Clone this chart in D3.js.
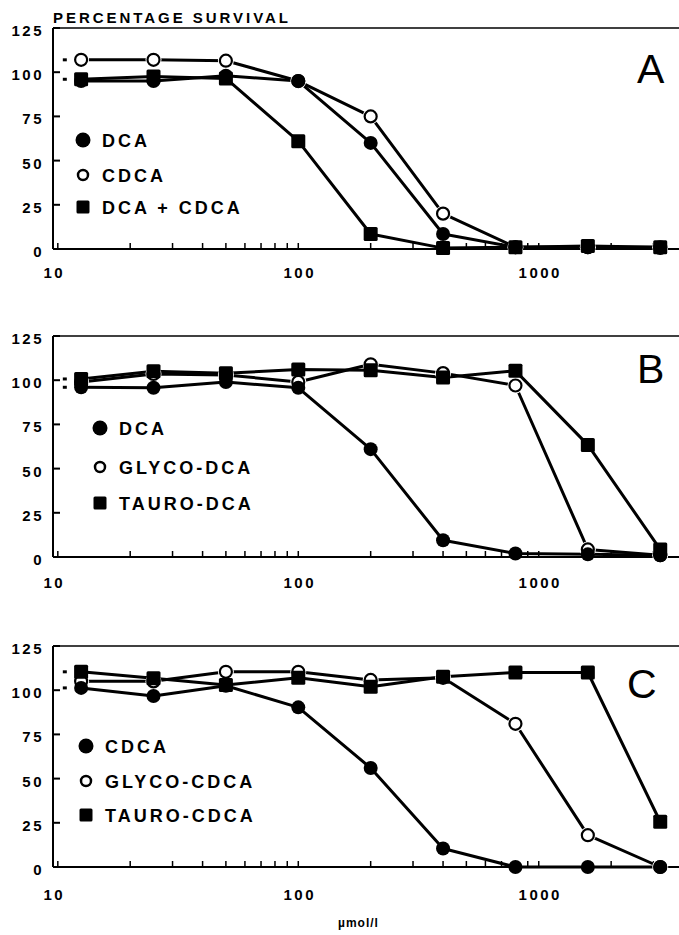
<!DOCTYPE html>
<html>
<head>
<meta charset="utf-8">
<script src="https://cdn.jsdelivr.net/npm/d3@7"></script>
<style>
  body { margin: 0; background: #fff; }
  svg { display: block; font-family: "Liberation Sans", Arial, sans-serif; }
  .tick-label { font-size: 15px; font-weight: bold; letter-spacing: 2.5px; }
  .legend-text { font-size: 18px; font-weight: bold; letter-spacing: 3px; }
  .panel-letter { font-size: 41px; }
</style>
</head>
<body>
<svg id="chart" width="679" height="935"></svg>
<script>
// concentrations (umol/l)
const conc = [12.5, 25, 50, 100, 200, 400, 800, 1600, 3200];
const yTicks = [0, 25, 50, 75, 100, 125];
const xLabels = [10, 100, 1000];
const xMinor = [20, 30, 40, 50, 60, 70, 80, 90, 200, 300, 400, 500, 600, 700, 800, 900, 2000, 3000];

// panel A
const aNames = ["DCA", "CDCA", "DCA + CDCA"];
const aDCA = [95, 95, 98, 95, 60, 8.5, 1, 1, 0.5];
const aCDCA = [107, 107, 106.5, 95, 75, 20, 1, 1, 1];
const aMix = [96, 97.5, 96.5, 61, 8.5, 0.5, 1, 1.7, 1];

// panel B
const bNames = ["DCA", "GLYCO-DCA", "TAURO-DCA"];
const bDCA = [96, 95.7, 99, 95.7, 61, 9.5, 2, 1.5, 1];
const bGly = [99, 103.5, 103, 99, 109, 104, 97, 4.3, 1];
const bTau = [100.7, 105, 104, 106, 105.6, 101.5, 105.3, 63.4, 4.3];

// panel C
const cNames = ["CDCA", "GLYCO-CDCA", "TAURO-CDCA"];
const cCDCA = [101.3, 96.7, 102.5, 90.3, 56, 10.5, 0, 0, 0];
const cGly = [105, 105, 110.4, 110.4, 105.8, 107, 81, 18, 0];
const cTau = [110.4, 106.7, 103, 107, 102, 107.6, 110, 110, 25.6];

const panels = [
  { letter: "A", top: 28, names: aNames, filled: aDCA, open: aCDCA, square: aMix,
    legX: 83, legY: [140, 175, 207], letterX: 637, letterY: 83, labelY: 278, stubs: [aCDCA, aMix] },
  { letter: "B", top: 336, names: bNames, filled: bDCA, open: bGly, square: bTau,
    legX: 100, legY: [428, 467, 503], letterX: 637, letterY: 383, labelY: 588, stubs: [bTau, bDCA] },
  { letter: "C", top: 646, names: cNames, filled: cCDCA, open: cGly, square: cTau,
    legX: 86, legY: [746, 781, 815], letterX: 627, letterY: 698, labelY: 900, stubs: [cTau, cCDCA] }
];

const svg = d3.select("#chart");
const left = 53, right = 679, plotH = 221;

const x = d3.scaleLog().domain([9.55, 3830]).range([left, right]);

svg.append("text")
  .attr("x", 53).attr("y", 23)
  .attr("font-size", 15).attr("font-weight", "bold")
  .attr("textLength", 235).attr("lengthAdjust", "spacing")
  .text("PERCENTAGE SURVIVAL");

function drawPanel(p) {
  const y = d3.scaleLinear().domain([0, 125]).range([p.top + plotH, p.top]);
  const g = svg.append("g");

  // frame: left axis, top line, bottom axis
  g.append("line").attr("x1", left).attr("x2", left).attr("y1", y(125)).attr("y2", y(0))
    .attr("stroke", "#000").attr("stroke-width", 2);
  g.append("line").attr("x1", left).attr("x2", right).attr("y1", y(125)).attr("y2", y(125))
    .attr("stroke", "#000").attr("stroke-width", 1.5);
  g.append("line").attr("x1", left).attr("x2", right).attr("y1", y(0)).attr("y2", y(0))
    .attr("stroke", "#000").attr("stroke-width", 2);

  // y ticks (inward)
  g.selectAll(".ytick").data(yTicks).enter().append("line")
    .attr("x1", left).attr("x2", left + 7)
    .attr("y1", d => y(d)).attr("y2", d => y(d))
    .attr("stroke", "#000").attr("stroke-width", 2);
  g.selectAll(".ylab").data(yTicks).enter().append("text")
    .attr("class", "tick-label")
    .attr("x", 44).attr("y", d => y(d) + 4)
    .attr("dominant-baseline", "middle")
    .attr("text-anchor", "end")
    .text(d => d);

  // x ticks (inward)
  g.selectAll(".xminor").data(xLabels.concat(xMinor)).enter().append("line")
    .attr("x1", d => x(d)).attr("x2", d => x(d))
    .attr("y1", y(0)).attr("y2", y(0) - 6)
    .attr("stroke", "#000").attr("stroke-width", 1.5);
  g.selectAll(".xlab").data(xLabels).enter().append("text")
    .attr("class", "tick-label")
    .attr("x", (d, i) => (i === 0 ? x(d) - 5 : x(d)) + 1.5)
    .attr("y", p.labelY)
    .attr("text-anchor", "middle")
    .text(d => d);

  // little stubs left of the first points
  g.selectAll(".stub").data(p.stubs).enter().append("line")
    .attr("x1", x(10) + 5).attr("x2", x(10) + 9)
    .attr("y1", d => y(d[0])).attr("y2", d => y(d[0]))
    .attr("stroke", "#000").attr("stroke-width", 3);

  const line = d3.line().x((d, i) => x(conc[i])).y(d => y(d));

  const series = [
    { vals: p.open, type: "open" },
    { vals: p.filled, type: "filled" },
    { vals: p.square, type: "square" }
  ];

  series.forEach(s => {
    g.append("path").datum(s.vals)
      .attr("d", line)
      .attr("fill", "none").attr("stroke", "#000")
      .attr("stroke-width", 3).attr("stroke-linejoin", "round");
  });

  series.forEach(s => {
    const m = g.append("g").selectAll("g").data(s.vals).enter().append("g")
      .attr("transform", (d, i) => `translate(${x(conc[i])},${y(d)})`);
    if (s.type === "open") {
      m.append("circle").attr("r", 8).attr("fill", "#fff");
      m.append("circle").attr("r", 6).attr("fill", "#fff")
        .attr("stroke", "#000").attr("stroke-width", 2.2);
    } else if (s.type === "filled") {
      m.append("circle").attr("r", 7).attr("fill", "#000");
    } else {
      m.append("rect").attr("x", -7).attr("y", -7).attr("width", 14).attr("height", 14)
        .attr("rx", 1.5).attr("fill", "#000");
    }
  });

  // legend
  const legTypes = ["filled", "open", "square"];
  legTypes.forEach((t, i) => {
    const ly = p.legY[i];
    if (t === "filled") {
      g.append("circle").attr("cx", p.legX).attr("cy", ly).attr("r", 7.5).attr("fill", "#000");
    } else if (t === "open") {
      g.append("circle").attr("cx", p.legX).attr("cy", ly).attr("r", 5)
        .attr("fill", "#fff").attr("stroke", "#000").attr("stroke-width", 2.5);
    } else {
      g.append("rect").attr("x", p.legX - 6.5).attr("y", ly - 6.5)
        .attr("width", 13).attr("height", 13).attr("rx", 1.5).attr("fill", "#000");
    }
    g.append("text").attr("class", "legend-text")
      .attr("x", p.legX + 19).attr("y", ly + 7)
      .text(p.names[i]);
  });

  g.append("text").attr("class", "panel-letter")
    .attr("x", p.letterX).attr("y", p.letterY)
    .text(p.letter);
}

panels.forEach(drawPanel);

svg.append("text")
  .attr("x", 338).attr("y", 927)
  .attr("font-size", 12).attr("font-weight", "bold")
  .attr("letter-spacing", 1)
  .text("µmol/l");
</script>
</body>
</html>
